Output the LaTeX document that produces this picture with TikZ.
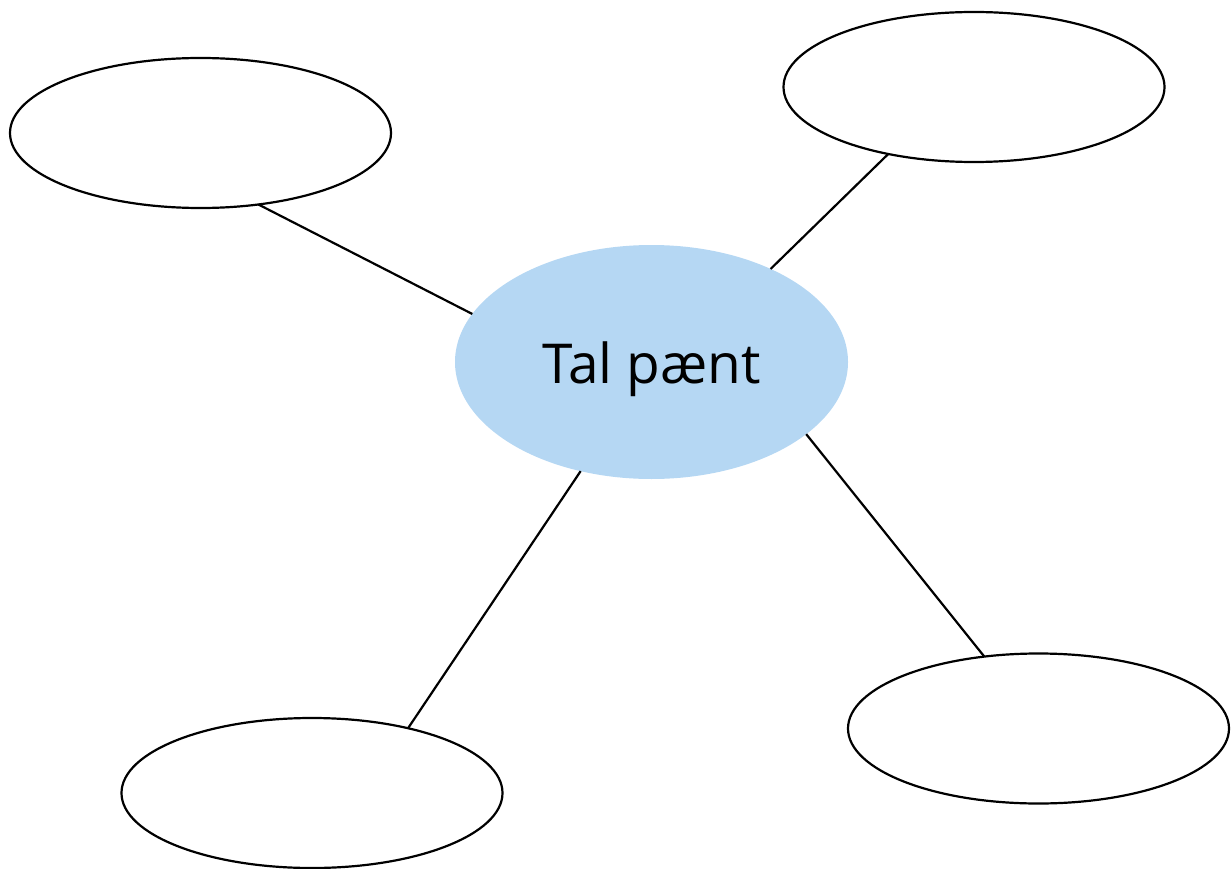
\documentclass[tikz,border=0pt]{standalone}
\usepackage{fontspec}
\setmainfont{Open Sans}
\usetikzlibrary{shapes.geometric}
\definecolor{hubblue}{HTML}{B5D7F3}
\begin{document}
\begin{tikzpicture}[x=1pt,y=-1pt,
  leaf/.style={ellipse,draw=black,line width=2.2pt,fill=white,minimum width=381pt,minimum height=150pt,inner sep=0pt,outer sep=0pt},
  hub/.style={ellipse,fill=hubblue,minimum width=393pt,minimum height=234pt,inner sep=0pt,outer sep=0pt,text height=42pt,text depth=0pt,font=\fontsize{55}{66}\selectfont},
  link/.style={line width=2.2pt}]
\useasboundingbox (0,0) rectangle (1231,869);
\node[hub] (c) at (651.5,362) {Tal pænt};
\node[leaf] (tl) at (200.5,133) {};
\node[leaf] (tr) at (974,87) {};
\node[leaf] (bl) at (312,793) {};
\node[leaf] (br) at (1038.5,728.5) {};
\draw[link] (tl.-51.4) -- (c.165.4);
\draw[link] (tr.-142.5) -- (c.38.2);
\draw[link] (bl.34.8) -- (c.237.6);
\draw[link] (br.127.5) -- (c.-25.7);
\end{tikzpicture}
\end{document}
